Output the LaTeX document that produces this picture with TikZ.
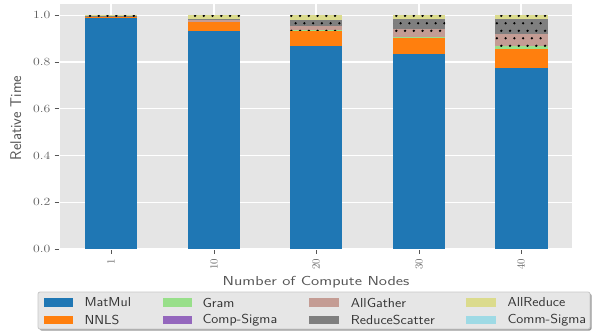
\documentclass[tikz,border=0pt]{standalone}
\usepackage{tikz}
\definecolor{axbg}{HTML}{E5E5E5}
\definecolor{tickgray}{HTML}{5E5E5E}
\definecolor{labgray}{HTML}{555555}
\definecolor{legtextc}{HTML}{333333}
\definecolor{cMatMul}{HTML}{1F77B4}
\definecolor{cNNLS}{HTML}{FF7F0E}
\definecolor{cGram}{HTML}{98DF8A}
\definecolor{cCompSigma}{HTML}{9467BD}
\definecolor{cAllGather}{HTML}{C49C94}
\definecolor{cReduceScatter}{HTML}{7F7F7F}
\definecolor{cAllReduce}{HTML}{DBDB8D}
\definecolor{cCommSigma}{HTML}{9EDAE5}
\definecolor{legfill}{HTML}{E6E6E6}
\definecolor{legedge}{HTML}{C8C8C8}
\definecolor{legshadow}{HTML}{9A9A9A}
\tikzset{
  ytl/.style={font=\fontsize{11}{13}\selectfont, text=tickgray, xscale=1.25, inner sep=0pt, anchor=east},
  xtl/.style={font=\fontsize{11}{13}\selectfont, text=tickgray, rotate=90, inner sep=0pt, anchor=east},
  axlabel/.style={font=\sffamily\fontsize{13}{15}\selectfont, text=labgray, inner sep=0pt},
  legtext/.style={font=\sffamily\fontsize{13}{15}\selectfont, text=legtextc, xscale=1.1, anchor=west, inner sep=0pt},
  legpatch/.style={minimum width=29.4pt, minimum height=8.4pt, inner sep=0pt, anchor=west},
  gridline/.style={draw=white, line width=1.1pt},
  tickmark/.style={draw=labgray, line width=0.8pt},
}
\newcommand\hatchdots[5]{%
  \begin{scope}
    \clip (#1,#2) rectangle (#3,#4);
    \foreach \m in {0,...,4}{
      \foreach \k in {0,...,8}{
        \fill[black] ({90+8.75*(#5+\k)+4.375*mod(\m,2)}, {15.8+7.5*\m}) circle[radius=1.3pt];
      }
    }
  \end{scope}}
\begin{document}
\begin{tikzpicture}[x=1pt,y=-1pt]
\useasboundingbox[fill=white] (0,0) rectangle (593,335);
% axes background
\fill[axbg] (60,4) rectangle (572,249);
% grid
\foreach \yy in {249,202.26,155.52,108.78,62.04,15.3}{\draw[gridline] (60,\yy) -- (572,\yy);}
\foreach \xx in {111,214,316,419,521}{\draw[gridline] (\xx,4) -- (\xx,249);}
% bar 1
\fill[cMatMul] (85,249) rectangle (137,17.7);
\fill[cNNLS] (85,17.7) rectangle (137,16.2);
\fill[cAllGather] (85,16.2) rectangle (137,15.9);
\fill[cReduceScatter] (85,15.9) rectangle (137,15.6);
\fill[cAllReduce] (85,15.6) rectangle (137,15.2);
\hatchdots{85}{16.2}{137}{15.2}{-1}
% bar 2
\fill[cMatMul] (188,249) rectangle (240,31);
\fill[cNNLS] (188,31) rectangle (240,21.7);
\fill[cAllGather] (188,21.7) rectangle (240,19.8);
\fill[cReduceScatter] (188,19.8) rectangle (240,19.3);
\fill[cAllReduce] (188,19.3) rectangle (240,15.3);
\hatchdots{188}{21.7}{240}{15.3}{10}
% bar 3
\fill[cMatMul] (290,249) rectangle (342,46);
\fill[cNNLS] (290,46) rectangle (342,30.7);
\fill[cGram] (290,30.7) rectangle (342,30);
\fill[cAllGather] (290,30) rectangle (342,26);
\fill[cReduceScatter] (290,26) rectangle (342,20);
\fill[cAllReduce] (290,20) rectangle (342,15.3);
\hatchdots{290}{30}{342}{15.3}{22}
% bar 4
\fill[cMatMul] (393,249) rectangle (445,54);
\fill[cNNLS] (393,54) rectangle (445,37.7);
\fill[cGram] (393,37.7) rectangle (445,36.7);
\fill[cAllGather] (393,36.7) rectangle (445,28.7);
\fill[cReduceScatter] (393,28.7) rectangle (445,19);
\fill[cAllReduce] (393,19) rectangle (445,15.3);
\hatchdots{393}{36.7}{445}{15.3}{34}
% bar 5
\fill[cMatMul] (495,249) rectangle (547.5,68);
\fill[cNNLS] (495,68) rectangle (547.5,49);
\fill[cGram] (495,49) rectangle (547.5,46);
\fill[cAllGather] (495,46) rectangle (547.5,34);
\fill[cReduceScatter] (495,34) rectangle (547.5,19);
\fill[cAllReduce] (495,19) rectangle (547.5,15.3);
\hatchdots{495}{46}{547.5}{15.3}{46}
% y ticks
\foreach \yy/\lab [count=\i] in {249/0.0,202.26/0.2,155.52/0.4,108.78/0.6,62.04/0.8,15.3/1.0}{
  \draw[tickmark] (54.5,\yy) -- (58.5,\yy);
  \node[ytl] (ytick\i) at (50.5,\yy) {\lab};
}
% x ticks
\foreach \xx/\lab [count=\i] in {111/1,214/10,316/20,419/30,521/40}{
  \draw[tickmark] (\xx,250) -- (\xx,254);
  \node[xtl] (xtick\i) at (\xx,258.5) {\lab};
}
% axis labels
\node[axlabel, xscale=1.28] (xlabel) at (316,281.8) {Number of Compute Nodes};
\node[axlabel, font=\sffamily\fontsize{15.5}{17}\selectfont, rotate=90] (ylabel) at (15.8,118) {Relative Time};
% legend
\fill[legshadow, rounded corners=2pt] (39.5,293.5) rectangle (591.5,330.5);
\filldraw[fill=legfill, draw=legedge, line width=0.8pt, rounded corners=2pt] (38,292) rectangle (590,329);
\node[legpatch, fill=cMatMul] (p1) at (43.3,302.5) {};
\node[legtext] (t1) at (84.3,302.5) {MatMul};
\node[legpatch, fill=cNNLS] (p2) at (43.3,319.9) {};
\node[legtext] (t2) at (84.3,319.9) {NNLS};
\node[legpatch, fill=cGram] (p3) at (162.3,302.5) {};
\node[legtext] (t3) at (202.3,302.5) {Gram};
\node[legpatch, fill=cCompSigma] (p4) at (162.3,319.9) {};
\node[legtext] (t4) at (202.3,319.9) {Comp-Sigma};
\node[legpatch, fill=cAllGather] (p5) at (309,302.5) {};
\node[legtext] (t5) at (350.7,302.5) {AllGather};
\node[legpatch, fill=cReduceScatter] (p6) at (309,319.9) {};
\node[legtext] (t6) at (350.7,319.9) {ReduceScatter};
\node[legpatch, fill=cAllReduce] (p7) at (466,302.5) {};
\node[legtext] (t7) at (507.3,302.5) {AllReduce};
\node[legpatch, fill=cCommSigma] (p8) at (466,319.9) {};
\node[legtext] (t8) at (507.3,319.9) {Comm-Sigma};
\end{tikzpicture}
\end{document}
